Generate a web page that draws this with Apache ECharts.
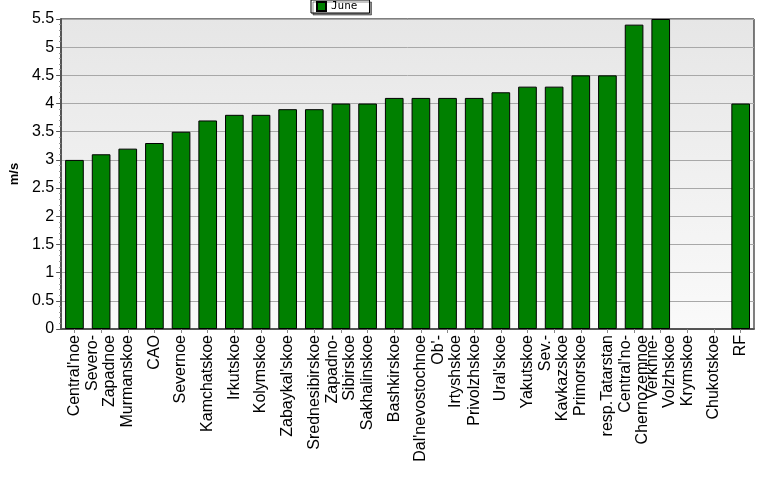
<!DOCTYPE html>
<html>
<head>
<meta charset="utf-8">
<script src="https://cdn.jsdelivr.net/npm/echarts@6/dist/echarts.min.js"></script>
<style>
  html, body { margin: 0; padding: 0; background: #fff; }
  #chart { width: 777px; height: 479px; }
</style>
</head>
<body>
<div id="chart"></div>
<script>
// regions (two-line labels keep the line break of the original)
var regions = [
    "Central'noe", "Severo-\nZapadnoe", "Murmanskoe", "CAO", "Severnoe",
    "Kamchatskoe", "Irkutskoe", "Kolymskoe", "Zabaykal'skoe", "Srednesibirskoe",
    "Zapadno-\nSibirskoe", "Sakhalinskoe", "Bashkirskoe", "Dal'nevostochnoe", "Ob'-\nIrtyshskoe",
    "Privolzhskoe", "Ural'skoe", "Yakutskoe", "Sev.-\nKavkazskoe", "Primorskoe",
    "resp.Tatarstan", "Central'no-\nChernozemnoe", "Verkhne-\nVolzhskoe", "Krymskoe", "Chukotskoe",
    "RF"
];
var june = [
    3.0, 3.1, 3.2, 3.3, 3.5,
    3.7, 3.8, 3.8, 3.9, 3.9,
    4.0, 4.0, 4.1, 4.1, 4.1,
    4.1, 4.2, 4.3, 4.3, 4.5,
    4.5, 5.4, 5.5, null, null,
    4.0
];
var seriesName = "June";
var unitName = "m/s";

let chartDom = document.getElementById('chart');
let myChart = echarts.init(chartDom);
let option;

option = {
    animation: false,
    textStyle: { fontFamily: 'Liberation Sans, Arial, sans-serif' },
    legend: {
        top: 0,
        left: 311,
        padding: [1, 12, 1, 5],
        itemWidth: 9,
        itemHeight: 9,
        itemGap: 4,
        backgroundColor: '#fff',
        borderColor: '#000',
        borderWidth: 1,
        borderRadius: 0,
        shadowColor: 'rgba(0,0,0,0.45)',
        shadowBlur: 0,
        shadowOffsetX: 2,
        shadowOffsetY: 2,
        textStyle: { fontSize: 11, color: '#000', fontFamily: 'DejaVu Sans Mono, monospace' },
        data: [{ name: seriesName, icon: 'rect' }]
    },
    grid: {
        left: 56,
        right: 23,
        top: 19,
        bottom: 150,
        show: true,
        borderColor: '#000',
        borderWidth: 1,
        backgroundColor: new echarts.graphic.LinearGradient(0, 0, 0, 1, [
            { offset: 0, color: '#e6e6e6' },
            { offset: 1, color: '#fafafa' }
        ])
    },
    xAxis: {
        type: 'category',
        data: regions,
        axisLine: { lineStyle: { color: '#555', width: 2 } },
        axisTick: { show: true, alignWithLabel: true, length: 4, lineStyle: { color: '#888' } },
        axisLabel: {
            rotate: 90,
            interval: 0,
            fontSize: 16,
            color: '#000',
            margin: 6,
            lineHeight: 17,
            align: 'right'
        }
    },
    yAxis: {
        type: 'value',
        name: unitName,
        nameLocation: 'middle',
        nameGap: 40,
        nameRotate: 90,
        nameTextStyle: { fontWeight: 'bold', fontSize: 13, color: '#000' },
        min: 0,
        max: 5.5,
        interval: 0.5,
        axisLine: { show: true, lineStyle: { color: '#555', width: 2 } },
        axisTick: { show: true, length: 5, lineStyle: { color: '#555' } },
        minorTick: { show: true, splitNumber: 5, length: 2, lineStyle: { color: '#888' } },
        axisLabel: { fontSize: 16, color: '#000', margin: 7 },
        splitLine: { show: true, lineStyle: { color: '#a8a8a8', width: 1 } }
    },
    series: [
        {
            name: seriesName,
            type: 'bar',
            data: june,
            barCategoryGap: '30%',
            itemStyle: {
                color: '#008000',
                borderColor: '#000',
                borderWidth: 1
            }
        }
    ]
};

option && myChart.setOption(option);
</script>
</body>
</html>
